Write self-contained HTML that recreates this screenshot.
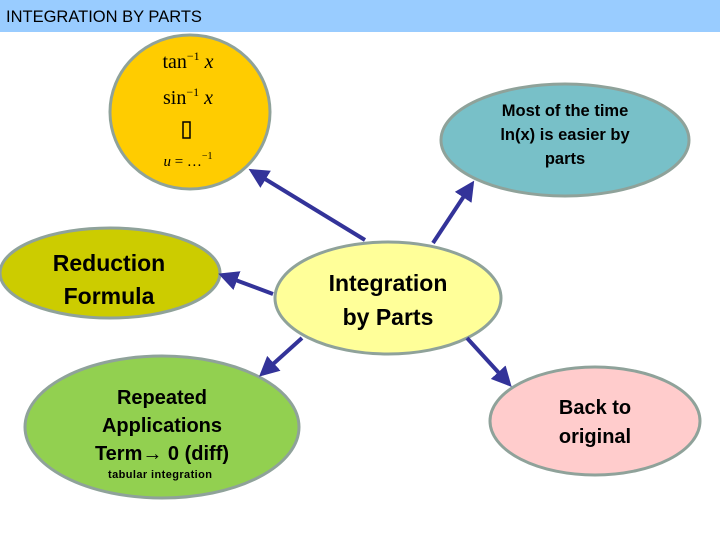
<!DOCTYPE html>
<html><head><style>
body{margin:0;width:720px;height:540px;background:#fff;overflow:hidden;font-family:"Liberation Sans",sans-serif}
</style></head><body>
<svg width="720" height="540" xmlns="http://www.w3.org/2000/svg">
<defs><marker id="a" markerWidth="5" markerHeight="5" refX="4" refY="2.5" orient="auto"><path d="M0,0 L5,2.5 L0,5 Z" fill="#333399"/></marker></defs>
<rect x="0" y="0" width="720" height="32" fill="#99ccff"/>
<text x="6" y="22" font-size="16.5" fill="#000">INTEGRATION BY PARTS</text>
<g stroke="#8fa29a" stroke-width="3">
<ellipse cx="190" cy="112" rx="80" ry="77" fill="#ffcc00"/>
<ellipse cx="565" cy="140" rx="124" ry="56" fill="#78c0c8"/>
<ellipse cx="110" cy="273" rx="110" ry="45" fill="#cccc00"/>
<ellipse cx="388" cy="298" rx="113" ry="56" fill="#ffff99"/>
<ellipse cx="162" cy="427" rx="137" ry="71" fill="#92d050"/>
<ellipse cx="595" cy="421" rx="105" ry="54" fill="#ffcccc"/>
</g>
<g stroke="#333399" stroke-width="4" marker-end="url(#a)">
<line x1="365" y1="240" x2="252" y2="171"/>
<line x1="433" y1="243" x2="472" y2="184"/>
<line x1="273" y1="294" x2="222" y2="275"/>
<line x1="302" y1="338" x2="262" y2="374"/>
<line x1="467" y1="338" x2="509" y2="384"/>
</g>
<g font-family="Liberation Serif,serif" font-size="20" text-anchor="middle">
<text x="188" y="68">tan<tspan font-size="12" dy="-8">−1</tspan><tspan dy="8" font-style="italic"> x</tspan></text>
<text x="188" y="104">sin<tspan font-size="12" dy="-8">−1</tspan><tspan dy="8" font-style="italic"> x</tspan></text>
<rect x="183" y="122" width="7" height="16" fill="none" stroke="#000" stroke-width="1.5"/>
<text x="188" y="166" font-size="15"><tspan font-style="italic">u</tspan> = …<tspan font-size="10" dy="-7">−1</tspan></text>
</g>
<g font-size="16.5" font-weight="bold" text-anchor="middle" fill="#000">
<text x="565" y="116">Most of the time</text>
<text x="565" y="140">ln(x) is easier by</text>
<text x="565" y="164">parts</text>
</g>
<g font-size="23" font-weight="bold" text-anchor="middle">
<text x="109" y="271">Reduction</text>
<text x="109" y="304">Formula</text>
<text x="388" y="291">Integration</text>
<text x="388" y="325">by Parts</text>
</g>
<g font-size="20" font-weight="bold" text-anchor="middle">
<text x="162" y="404">Repeated</text>
<text x="162" y="432">Applications</text>
<text x="162" y="460">Term<tspan font-weight="900">→</tspan> 0 (diff)</text>
<text x="595" y="414">Back to</text>
<text x="595" y="443">original</text>
</g>
<text x="108" y="478" font-size="11" font-weight="bold" textLength="104">tabular integration</text>
</svg>
</body></html>
